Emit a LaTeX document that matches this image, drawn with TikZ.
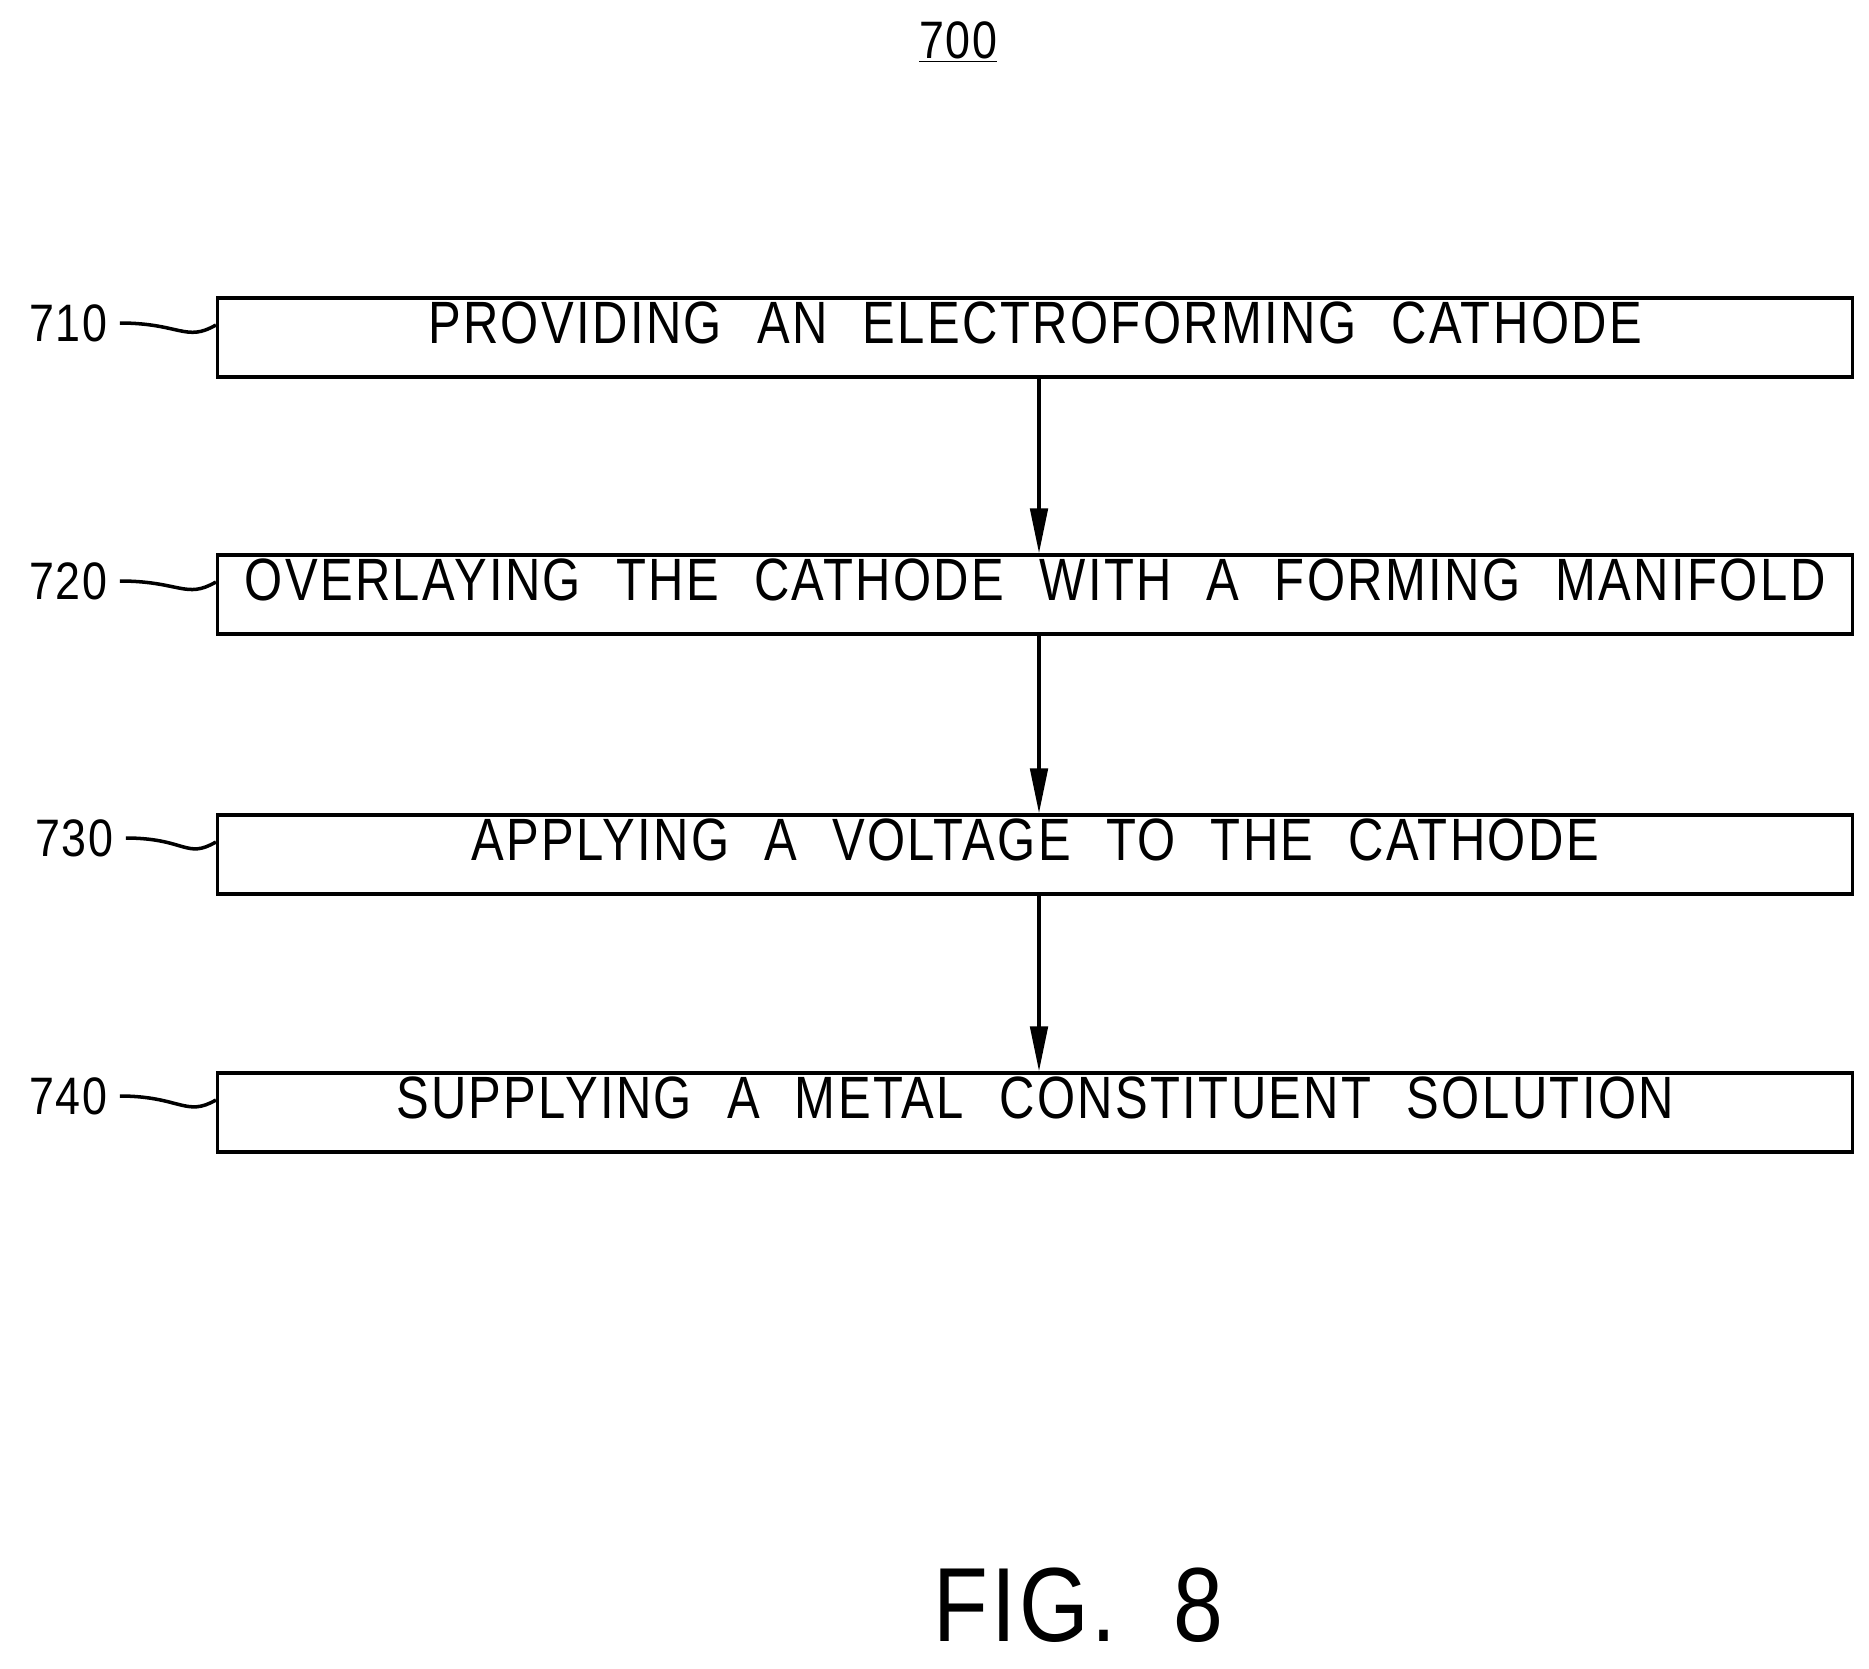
\documentclass[tikz,border=0pt]{standalone}
\usepackage{fontspec}
\setmainfont{Liberation Sans}
\newfontfamily\boxfont{Liberation Sans}[FakeStretch=0.82,LetterSpace=4,WordSpace=2.2]
\newfontfamily\figfont{Liberation Sans}[FakeStretch=0.85,LetterSpace=3,WordSpace=2]
\usetikzlibrary{arrows.meta}
\begin{document}
\begin{tikzpicture}[x=0.02cm,y=-0.02cm,
  box/.style={draw,line width=2pt,minimum width=32.7cm,minimum height=1.58cm,inner sep=0pt,text height=0.72em,text depth=0pt,font=\boxfont\fontsize{34}{38}\selectfont},
  lbl/.style={font=\figfont\fontsize{30}{32}\selectfont,inner sep=0pt},
  arr/.style={line width=2pt,-{Triangle[length=0.9cm,width=0.35cm]}},
  lead/.style={line width=2pt}]
\useasboundingbox (0,0) rectangle (1869,1668);
\node[lbl] (t) at (958,42) {\underline{700}};
\node[box] (b1) at (1035,337.5) {PROVIDING AN ELECTROFORMING CATHODE};
\node[box] (b2) at (1035,594.5) {OVERLAYING THE CATHODE WITH A FORMING MANIFOLD};
\node[box] (b3) at (1035,854.5) {APPLYING A VOLTAGE TO THE CATHODE};
\node[box] (b4) at (1035,1112.5) {SUPPLYING A METAL CONSTITUENT SOLUTION};
\node[lbl] (l1) at (68,323) {710};
\node[lbl] (l2) at (68,581) {720};
\node[lbl] (l3) at (74,838) {730};
\node[lbl] (l4) at (68,1096) {740};
\foreach \i in {1,2,3,4}{
  \coordinate (s\i) at ([xshift=0.25cm]l\i.east);
  \draw[lead] (s\i) .. controls ([xshift=1.2cm]s\i) and ([xshift=-0.6cm,yshift=-0.1cm]b\i.west) .. ([yshift=0.25cm]b\i.west);
}
\draw[arr] (1039,377) -- (b2.north -| 1039,0);
\draw[arr] (1039,634) -- (b3.north -| 1039,0);
\draw[arr] (1039,894) -- (b4.north -| 1039,0);
\node[font=\figfont\fontsize{60}{64}\selectfont,inner sep=0pt] (fig) at (1078,1605) {FIG.\ 8};
\end{tikzpicture}
\end{document}
